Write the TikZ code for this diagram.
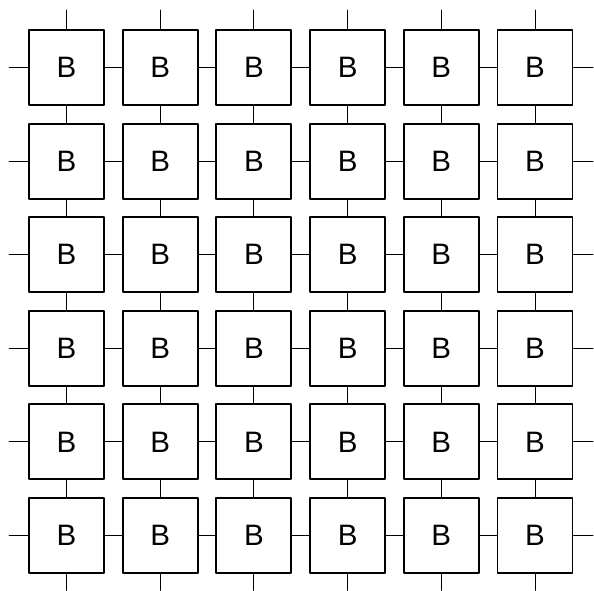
\documentclass[tikz,border=0pt]{standalone}
\usepackage{fontspec}
\setmainfont{Liberation Sans}
\tikzset{
  blk/.style={draw, line width=1.4pt, minimum size=1.875cm, inner sep=0pt,
    font=\fontsize{21}{25}\selectfont},
  wire/.style={line width=0.7pt}
}
\begin{document}
\begin{tikzpicture}[x=0.025cm, y=-0.025cm, line cap=round, line join=round]
  \useasboundingbox (0,0) rectangle (594,591);
  % the 6x6 blocks
  \foreach \i in {0,...,5} {
    \foreach \j in {0,...,5} {
      \node[blk] (b\i\j) at (66.5+93.7*\i, 67.5+93.6*\j) {B};
    }
  }
  % free ends of the outer wires
  \foreach \k in {0,...,5} {
    \coordinate (wl\k) at (9, 67.5+93.6*\k);
    \coordinate (wr\k) at (593, 67.5+93.6*\k);
    \coordinate (wt\k) at (66.5+93.7*\k, 10);
    \coordinate (wb\k) at (66.5+93.7*\k, 590.5);
  }
  % wires between neighbours
  \foreach \i [evaluate=\i as \n using int(\i+1)] in {0,...,4} {
    \foreach \j in {0,...,5} {
      \draw[wire] (b\i\j.east) -- (b\n\j.west);
      \draw[wire] (b\j\i.south) -- (b\j\n.north);
    }
  }
  % wires at the border
  \foreach \k in {0,...,5} {
    \draw[wire] (wl\k) -- (b0\k.west);
    \draw[wire] (b5\k.east) -- (wr\k);
    \draw[wire] (wt\k) -- (b\k0.north);
    \draw[wire] (b\k5.south) -- (wb\k);
  }
\end{tikzpicture}
\end{document}
